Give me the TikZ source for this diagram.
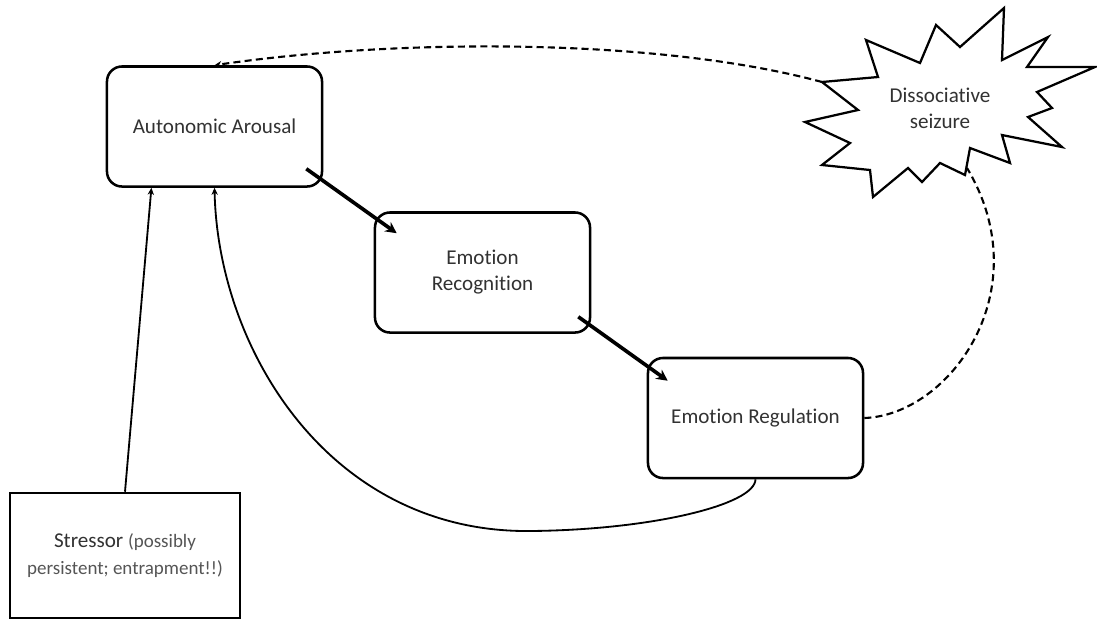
\documentclass[tikz,border=0pt]{standalone}
\usepackage{fontspec}
\setmainfont{Carlito}[Ligatures = NoCommon]
\usetikzlibrary{arrows.meta}
\usetikzlibrary{calc}
\definecolor{darkText}{RGB}{50,50,50}
\definecolor{lightText}{RGB}{85,85,85}

\begin{document}
\begin{tikzpicture}[x = 0.025cm, y = -0.025cm]
	\tikzstyle{boxStyle} = [draw, line width = 1.8pt, rounded corners = 0.375cm, minimum width = 5.375cm, minimum height = 3cm, align = center, text = darkText, font = \fontsize{15}{18.5}\selectfont]
	\tikzstyle{stressStyle} = [draw, line width = 1.8pt, minimum width = 5.75cm, minimum height = 3.125cm, align = center, text = darkText, font = \fontsize{15}{19}\selectfont]
	\tikzstyle{thinArrow} = [line width = 1.3pt, -{Stealth[length = 5pt, width = 4.5pt]}]
	\tikzstyle{thickArrow} = [line width = 2.6pt, -{Stealth[length = 8pt, width = 8pt]}]
	\tikzstyle{dashLine} = [line width = 1.5pt, dash pattern = on 5pt off 3pt]
	\useasboundingbox (0,0) rectangle (1097,621);
	\node[boxStyle] (arousal) at (214.5,126.5) {Autonomic Arousal};
	\node[boxStyle] (recog) at (482.5,272.5) {Emotion\\Recognition};
	\node[boxStyle] (regul) at (755.5,418) {Emotion Regulation};
	\node[stressStyle] (stressor) at (125,555.5) {Stressor {\fontsize{13.5}{19}\selectfont\color{lightText}(possibly}\\{\fontsize{13.5}{19}\selectfont\color{lightText}persistent; entrapment!!)}};
	\draw[line width = 1.6pt, fill = white] (822,82) -- (878,77) -- (866,40) -- (920,63) -- (936,25) -- (960,47) -- (1004,8) -- (1002,60) -- (1048,37) -- (1027,67) -- (1095,67) -- (1037,92) -- (1052,108) -- (1028,117) -- (1062,147) -- (1002,135) -- (1010,163) -- (970,148) -- (965,175) -- (940,163) -- (922,182) -- (908,168) -- (873,197) -- (870,170) -- (822,165) -- (850,143) -- (805,122) -- (858,110) -- cycle;
	\node[align = center, text = darkText, font = \fontsize{15}{18.5}\selectfont] (seizure) at (940,108) {Dissociative\\seizure};
	\coordinate (burstL) at (822,82);
	\coordinate (burstB) at (967,168);
	\draw[thickArrow] ($(arousal.south east)+(-17,-19)$) -- ($(recog.north west)+(23,22)$);
	\draw[thickArrow] ($(recog.south east)+(-13,-17)$) -- ($(regul.north west)+(21,24)$);
	\draw[thinArrow] (stressor.north) -- ($(arousal.south west)!0.21!(arousal.south east)$);
	\draw[thinArrow] (regul.south) .. controls (755,505) and (650,530) .. (530,531) .. controls (330,533) and (218,350) .. (arousal.south);
	\draw[dashLine, -{Stealth[length = 5pt, width = 4.5pt]}] (burstL) .. controls (660,38) and (400,38) .. (arousal.north);
	\draw[dashLine] (regul.east) .. controls (950,415) and (1040,290) .. (burstB);
\end{tikzpicture}
\end{document}
